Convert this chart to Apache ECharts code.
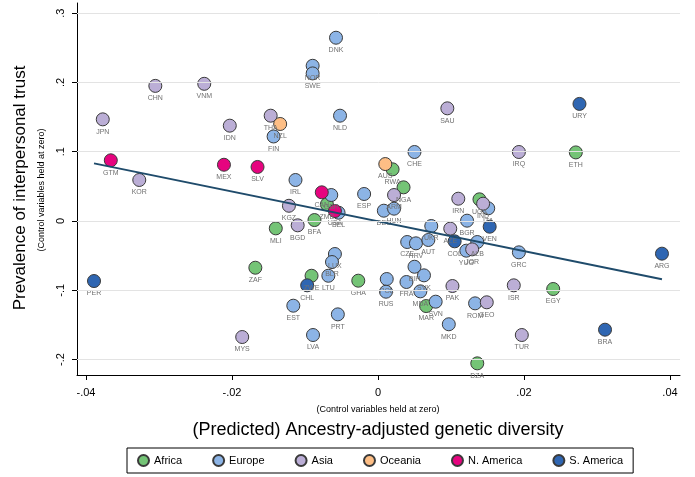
<!DOCTYPE html>
<html>
<head>
<meta charset="utf-8">
<script src="https://cdn.jsdelivr.net/npm/echarts@6/dist/echarts.min.js"></script>
<style>
html,body{margin:0;padding:0;background:#fff;}
#chart{width:695px;height:477px;}
</style>
</head>
<body>
<div id="chart"></div>
<script>
// ---- Data ----
const africaCodes = ['ZMB','BFA','MLI','RWA','NGA','ETH','UGA','ZAF','ZWE','GHA','MAR','EGY','DZA'];
const africaX = [-0.0070,-0.0087,-0.0140,0.0020,0.0035,0.0271,0.0139,-0.0168,-0.0091,-0.0027,0.0066,0.0240,0.0136];
const africaY = [0.024,0.0014,-0.0106,0.0746,0.0486,0.099,0.0313,-0.0674,-0.079,-0.0861,-0.1227,-0.0981,-0.2054];

const europeCodes = ['DNK','NOR','SWE','FIN','NLD','IRL','GBR','BEL','ESP','DEU','HUN','CHE','ITA','BGR','UKR','CZE','HRV','AUT','ALB','YUG','GRC','BIH','SVK','POL','RUS','FRA','MDA','SVN','MKD','ROM','LUX','BLR','LTU','EST','PRT','LVA'];
const europeX = [-0.00575,-0.00895,-0.00895,-0.0143,-0.0052,-0.0113,-0.0064,-0.0054,-0.0019,0.0008,0.0022,0.0050,0.0151,0.0122,0.0073,0.0040,0.0052,0.0069,0.0136,0.0121,0.0193,0.0050,0.0063,0.0012,0.0011,0.0039,0.0058,0.0079,0.0097,0.0133,-0.0059,-0.0063,-0.0068,-0.0116,-0.0055,-0.0089];
const europeY = [0.2645,0.224,0.213,0.122,0.152,0.0592,0.0375,0.012,0.039,0.0149,0.0178,0.0996,0.0183,0.0005,-0.0072,-0.0303,-0.0322,-0.0274,-0.0303,-0.0428,-0.0452,-0.066,-0.0784,-0.0837,-0.102,-0.088,-0.1015,-0.1164,-0.149,-0.1188,-0.0476,-0.0592,-0.079,-0.1222,-0.1347,-0.1645];

const asiaCodes = ['CHN','VNM','JPN','IDN','THA','KOR','KGZ','BGD','ARM','SAU','IRQ','IRN','IND','AZE','JOR','PAK','GEO','ISR','TUR','MYS'];
const asiaX = [-0.0305,-0.0238,-0.0377,-0.0203,-0.0147,-0.0327,-0.0122,-0.0110,0.0022,0.0095,0.0193,0.0110,0.0144,0.0099,0.0129,0.0102,0.0149,0.0186,0.0197,-0.0186];
const asiaY = [0.195,0.198,0.1467,0.1376,0.152,0.0592,0.022,-0.0062,0.0375,0.1626,0.0996,0.0322,0.025,-0.011,-0.0409,-0.0938,-0.1173,-0.0928,-0.1645,-0.1674];

const oceaniaCodes = ['NZL','AUS'];
const oceaniaX = [-0.0134,0.0010];
const oceaniaY = [0.140,0.0822];

const namericaCodes = ['GTM','MEX','SLV','CAN','USA'];
const namericaX = [-0.0366,-0.0211,-0.0165,-0.0077,-0.0059];
const namericaY = [0.0876,0.0812,0.078,0.0414,0.0144];

const samericaCodes = ['URY','COL','VEN','ARG','PER','CHL','BRA'];
const samericaX = [0.0276,0.0105,0.0153,0.0389,-0.0389,-0.0097,0.0311];
const samericaY = [0.169,-0.0293,-0.0082,-0.0471,-0.0866,-0.0928,-0.1568];

const fitX = [-0.0389, 0.0389];
const fitY = [0.0832, -0.0841];

const xTicks = [-0.04,-0.02,0,0.02,0.04];
const xTickLabels = ['-.04','-.02','0','.02','.04'];
const yTicks = [-0.2,-0.1,0,0.1,0.2,0.3];
const yTickLabels = ['-.2','-.1','0','.1','.2','.3'];

const regionNames = ['Africa','Europe','Asia','Oceania','N. America','S. America'];
const regionColors = ['#74c476','#8cb4e6','#bbaed6','#fdbe85','#e6047f','#2f66b2'];

// ---- Build ----
const FONT = 'Liberation Sans, Arial, sans-serif';
function pts(codes, xs, ys){ return codes.map((c,i)=>[xs[i], ys[i], c]); }
const groups = [
  pts(africaCodes, africaX, africaY),
  pts(europeCodes, europeX, europeY),
  pts(asiaCodes, asiaX, asiaY),
  pts(oceaniaCodes, oceaniaX, oceaniaY),
  pts(namericaCodes, namericaX, namericaY),
  pts(samericaCodes, samericaX, samericaY)
];
function fmtTick(ticks, labels){ return v => { for(let i=0;i<ticks.length;i++){ if(Math.abs(v-ticks[i])<1e-9) return labels[i]; } return ''; }; }

const series = [];
series.push({
  type:'line', data:[], z:0, silent:true, symbol:'none',
  markLine:{ silent:true, symbol:'none', label:{show:false}, animation:false,
    lineStyle:{color:'#e3e3e3', width:1, type:'solid'},
    data: yTicks.map(v=>({yAxis:v})) }
});
groups.forEach((g,i)=>{
  series.push({
    name: regionNames[i], type:'scatter', data:g, symbol:'circle', symbolSize:13, z:2,
    itemStyle:{color:regionColors[i], borderColor:'#3a3a3a', borderWidth:1, opacity:1},
    label:{show:true, position:'bottom', distance:2, formatter:p=>p.data[2],
      color:'#707070', fontSize:7, fontFamily:FONT},
    labelLayout:{hideOverlap:false},
    emphasis:{disabled:true}, animation:false
  });
});
series.push({
  type:'line', data: fitX.map((x,i)=>[x, fitY[i]]), symbol:'none', z:3,
  lineStyle:{color:'#1f4b6b', width:2}, silent:true, animation:false
});

const chart = echarts.init(document.getElementById('chart'), null, {renderer:'canvas'});
chart.setOption({
  animation:false,
  backgroundColor:'#fff',
  textStyle:{fontFamily:FONT},
  grid:{left:77, top:3, width:603, height:372, containLabel:false},
  xAxis:{
    type:'value', min:-0.04123, max:0.04137,
    axisLine:{show:true, onZero:false, lineStyle:{color:'#000', width:1}},
    axisTick:{show:true, length:5, customValues:xTicks, lineStyle:{color:'#000'}},
    axisLabel:{customValues:xTicks, formatter:fmtTick(xTicks,xTickLabels), color:'#000', fontSize:11, margin:12, fontFamily:FONT},
    splitLine:{show:false}
  },
  yAxis:{
    type:'value', min:-0.2222, max:0.3146,
    axisLine:{show:true, onZero:false, lineStyle:{color:'#000', width:1}},
    axisTick:{show:true, length:5, customValues:yTicks, lineStyle:{color:'#000'}},
    axisLabel:{customValues:yTicks, formatter:fmtTick(yTicks,yTickLabels), color:'#000', fontSize:11, rotate:90, margin:11, fontFamily:FONT},
    splitLine:{show:false}
  },
  legend:{
    data: regionNames, left:127, top:448, orient:'horizontal',
    itemWidth:11, itemHeight:11, itemGap:30, icon:'circle',
    padding:[6,10,6,10], borderColor:'#000', borderWidth:1,
    textStyle:{color:'#000', fontSize:11, fontFamily:FONT},
    selectedMode:false
  },
  graphic:[
    {type:'text', x:20, y:188, rotation:Math.PI/2, silent:true,
      style:{text:'Prevalence of interpersonal trust', fill:'#000', font:'17px '+FONT, align:'center', verticalAlign:'middle'}},
    {type:'text', x:42, y:190, rotation:Math.PI/2, silent:true,
      style:{text:'(Control variables held at zero)', fill:'#000', font:'9px '+FONT, align:'center', verticalAlign:'middle'}},
    {type:'text', x:378, y:410, silent:true,
      style:{text:'(Control variables held at zero)', fill:'#000', font:'9px '+FONT, align:'center', verticalAlign:'middle'}},
    {type:'text', x:378, y:430, silent:true,
      style:{text:'(Predicted) Ancestry-adjusted genetic diversity', fill:'#000', font:'18px '+FONT, align:'center', verticalAlign:'middle'}}
  ],
  series: series
});
</script>
</body>
</html>
